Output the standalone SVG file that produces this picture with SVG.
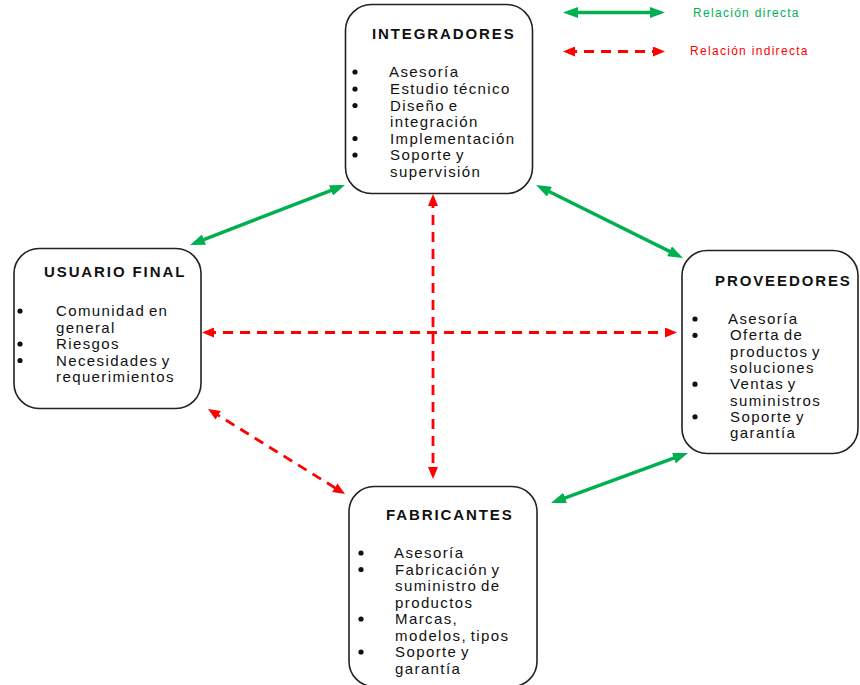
<svg xmlns="http://www.w3.org/2000/svg" width="860" height="685" viewBox="0 0 860 685">
<defs>
<style>
.box{fill:#fff;stroke:#222;stroke-width:1.6}
.title{font-family:"Liberation Sans",Arial,sans-serif;font-size:15px;font-weight:bold;letter-spacing:1.9px;fill:#111}
.body{font-family:"Liberation Sans",Arial,sans-serif;font-size:15px;letter-spacing:1.4px;word-spacing:-2px;fill:#111}
.dot{fill:#111}
.direct{stroke:#00b050;stroke-width:3.5;fill:none;marker-start:url(#gh);marker-end:url(#gh)}
.indirect{stroke:#ff0000;stroke-width:2.8;fill:none;stroke-dasharray:10 7;marker-start:url(#rh);marker-end:url(#rh)}
.lg{font-family:"Liberation Sans",Arial,sans-serif;font-size:12px;letter-spacing:1.3px}
</style>
<marker id="gh" viewBox="0 0 15 11" refX="10" refY="5.5" markerWidth="15" markerHeight="11" markerUnits="userSpaceOnUse" orient="auto-start-reverse">
<path d="M0,0 L15,5.5 L0,11 z" fill="#00b050"/>
</marker>
<marker id="rh" viewBox="0 0 12 10" refX="8" refY="5" markerWidth="12" markerHeight="10" markerUnits="userSpaceOnUse" orient="auto-start-reverse">
<path d="M0,0 L12,5 L0,10 z" fill="#ff0000"/>
</marker>
</defs>
<rect width="860" height="685" fill="#fff"/>

<g id="connectors">
<line class="direct" x1="194.7" y1="243.2" x2="340.3" y2="186.8"/>
<line class="direct" x1="540.5" y1="187.2" x2="678.5" y2="255.8"/>
<line class="direct" x1="555.7" y1="501.3" x2="683.3" y2="454.7"/>
<line class="indirect" x1="433" y1="198" x2="433" y2="475"/>
<line class="indirect" x1="206" y1="332.5" x2="673" y2="332.5"/>
<line class="indirect" x1="211.4" y1="411.1" x2="341.6" y2="491.9"/>
</g>

<g id="legend">
<line class="direct" x1="568" y1="12.5" x2="660" y2="12.5"/>
<text class="lg" x="693" y="17" fill="#00b050">Relación directa</text>
<line class="indirect" x1="567" y1="51.5" x2="661" y2="51.5"/>
<text class="lg" x="690" y="55" fill="#ff0000">Relación indirecta</text>
</g>

<g id="integradores">
<rect class="box" x="345.5" y="4.5" width="187" height="189" rx="26"/>
<text class="title" x="372" y="39">INTEGRADORES</text>
<circle class="dot" cx="355" cy="72" r="2.6"/>
<circle class="dot" cx="355" cy="89" r="2.6"/>
<circle class="dot" cx="355" cy="105.5" r="2.6"/>
<circle class="dot" cx="355" cy="138.5" r="2.6"/>
<circle class="dot" cx="355" cy="155" r="2.6"/>
<text class="body" x="389" y="77">Asesoría</text>
<text class="body" x="390" y="94">Estudio técnico</text>
<text class="body" x="390" y="110.5">Diseño e</text>
<text class="body" x="390" y="127">integración</text>
<text class="body" x="390" y="143.5">Implementación</text>
<text class="body" x="390" y="160">Soporte y</text>
<text class="body" x="390" y="176.5">supervisión</text>
</g>

<g id="usuario-final">
<rect class="box" x="14" y="248.5" width="187" height="160" rx="25"/>
<text class="title" x="44" y="277">USUARIO FINAL</text>
<circle class="dot" cx="20" cy="311" r="2.6"/>
<circle class="dot" cx="20" cy="344" r="2.6"/>
<circle class="dot" cx="20" cy="360.5" r="2.6"/>
<text class="body" x="56" y="316">Comunidad en</text>
<text class="body" x="56" y="332.5">general</text>
<text class="body" x="56" y="349">Riesgos</text>
<text class="body" x="56" y="365.5">Necesidades y</text>
<text class="body" x="56" y="382">requerimientos</text>
</g>

<g id="proveedores">
<rect class="box" x="682" y="250.5" width="176" height="203" rx="25"/>
<text class="title" x="715" y="286">PROVEEDORES</text>
<circle class="dot" cx="695" cy="319" r="2.6"/>
<circle class="dot" cx="695" cy="335.3" r="2.6"/>
<circle class="dot" cx="695" cy="384.2" r="2.6"/>
<circle class="dot" cx="695" cy="416.8" r="2.6"/>
<text class="body" x="728" y="324">Asesoría</text>
<text class="body" x="730" y="340.3">Oferta de</text>
<text class="body" x="730" y="356.6">productos y</text>
<text class="body" x="730" y="372.9">soluciones</text>
<text class="body" x="730" y="389.2">Ventas y</text>
<text class="body" x="730" y="405.5">suministros</text>
<text class="body" x="730" y="421.8">Soporte y</text>
<text class="body" x="730" y="438.1">garantía</text>
</g>

<g id="fabricantes">
<rect class="box" x="349" y="486.5" width="188" height="200" rx="25"/>
<text class="title" x="386" y="520">FABRICANTES</text>
<circle class="dot" cx="361" cy="553" r="2.6"/>
<circle class="dot" cx="361" cy="569.5" r="2.6"/>
<circle class="dot" cx="361" cy="619" r="2.6"/>
<circle class="dot" cx="361" cy="652" r="2.6"/>
<text class="body" x="394" y="558">Asesoría</text>
<text class="body" x="395" y="574.5">Fabricación y</text>
<text class="body" x="395" y="591">suministro de</text>
<text class="body" x="395" y="607.5">productos</text>
<text class="body" x="395" y="624">Marcas,</text>
<text class="body" x="395" y="640.5">modelos, tipos</text>
<text class="body" x="395" y="657">Soporte y</text>
<text class="body" x="395" y="673.5">garantía</text>
</g>
</svg>
